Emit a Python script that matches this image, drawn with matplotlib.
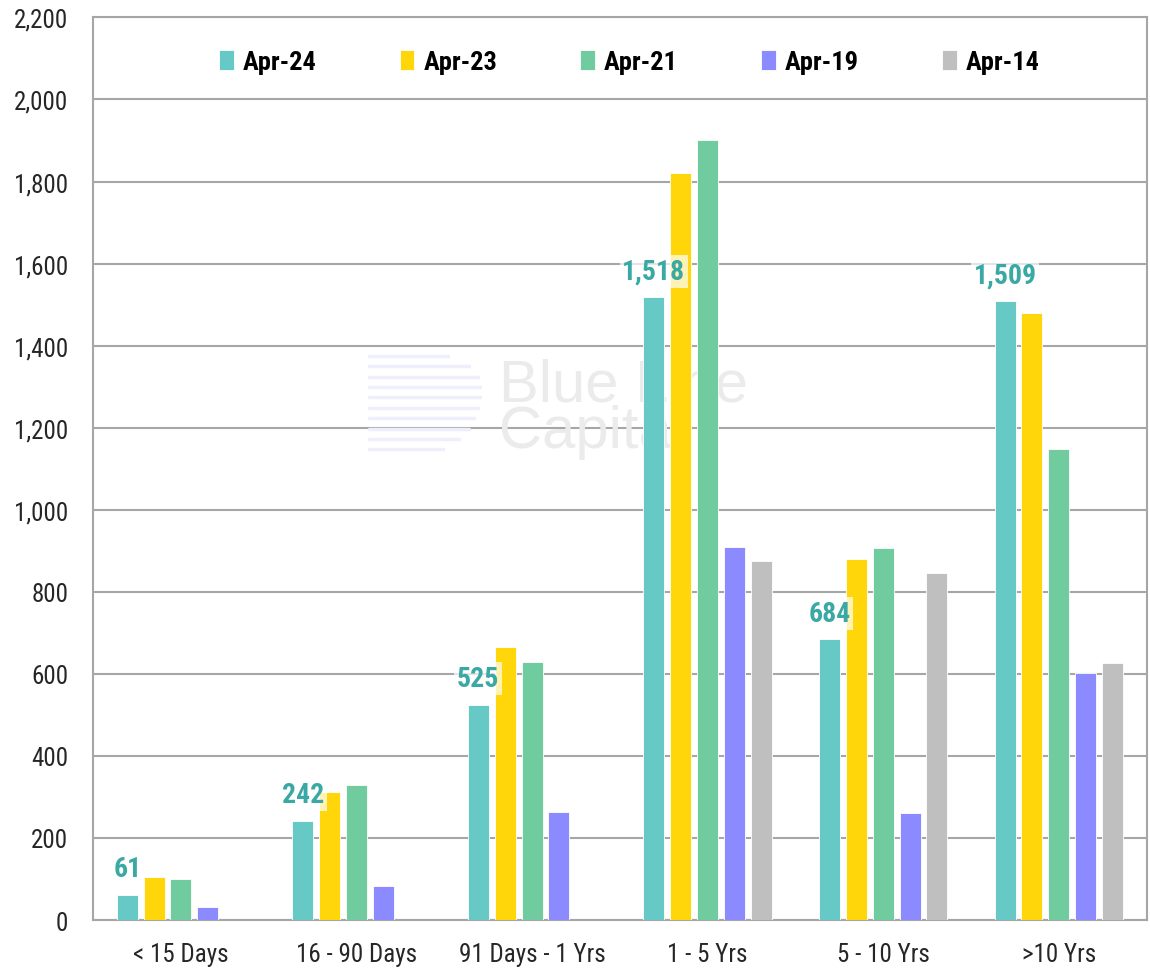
import numpy as np
import matplotlib.pyplot as plt

plt.rcParams['font.family'] = ['Roboto Condensed', 'DejaVu Sans']

categories = ['< 15 Days', '16 - 90 Days', '91 Days - 1 Yrs', '1 - 5 Yrs', '5 - 10 Yrs', '>10 Yrs']
series = ['Apr-24', 'Apr-23', 'Apr-21', 'Apr-19', 'Apr-14']
apr24 = [61, 242, 525, 1518, 684, 1509]
apr23 = [104, 313, 665, 1821, 880, 1479]
apr21 = [100, 328, 628, 1901, 906, 1148]
apr19 = [32, 82, 263, 909, 262, 603]
apr14 = [0, 0, 0, 875, 847, 626]
colors = ['#67C9C6', '#FFD60A', '#70CC9E', '#8B8BFF', '#BFBFBF']

data = [apr24, apr23, apr21, apr19, apr14]

fig = plt.figure(figsize=(11.5, 9.7), dpi=100)
ax = fig.add_axes([0.081, 0.0505, 0.916, 0.9305])

x = np.arange(len(categories))
width = 0.12
step = 0.153
for i, vals in enumerate(data):
    ax.bar(x + (i - 2) * step, vals, width=width, color=colors[i], label=series[i],
           edgecolor='white', linewidth=0.6, zorder=3)

# labels for Apr-24
for xi, v in zip(x, apr24):
    ax.annotate(format(v, ','), (xi - 2 * step, v), xytext=(0, 9), textcoords='offset points',
                ha='center', va='bottom', fontsize=20, fontweight='bold', color='#3AA8A4',
                bbox=dict(boxstyle='square,pad=0.1', facecolor='white', edgecolor='none', alpha=0.7),
                zorder=5)

# watermark
ax.text(0.385, 0.567, 'Blue Line\nCapital', transform=ax.transAxes, fontsize=43,
        color='#EBEBEB', family=['Liberation Sans', 'DejaVu Sans'], linespacing=0.82,
        ha='left', va='center', zorder=1)
lens = [0.075, 0.095, 0.103, 0.105, 0.105, 0.103, 0.1, 0.095, 0.085, 0.07]
for k, ln in enumerate(lens):
    yy = 0.625 - k * 0.0115
    ax.plot([0.262, 0.262 + ln], [yy, yy], transform=ax.transAxes, color='#EEEEFC', lw=2.5,
            solid_capstyle='round', zorder=1)

ax.set_ylim(0, 2200)
ax.set_xlim(-0.5, len(categories) - 0.5)
ax.set_yticks(np.arange(0, 2201, 200))
ax.set_yticklabels([format(t, ',') for t in np.arange(0, 2201, 200)])
ax.set_xticks(x)
ax.set_xticklabels(categories)
ax.tick_params(axis='both', length=0, labelsize=18, colors='#262626')
ax.tick_params(axis='x', pad=16)
ax.tick_params(axis='y', pad=18)
ax.grid(axis='y', color='#A6A6A6', linewidth=1.5, zorder=0)
ax.set_axisbelow(True)
for s in ax.spines.values():
    s.set_color('#A6A6A6')
    s.set_linewidth(1.5)

leg = ax.legend(loc='upper center', bbox_to_anchor=(0.509, 0.99), ncol=5, frameon=False,
                prop={'weight': 'bold', 'size': 19}, handlelength=0.55, handleheight=0.75,
                handletextpad=0.35, columnspacing=3.15)

fig.savefig('out.png', dpi=100)
